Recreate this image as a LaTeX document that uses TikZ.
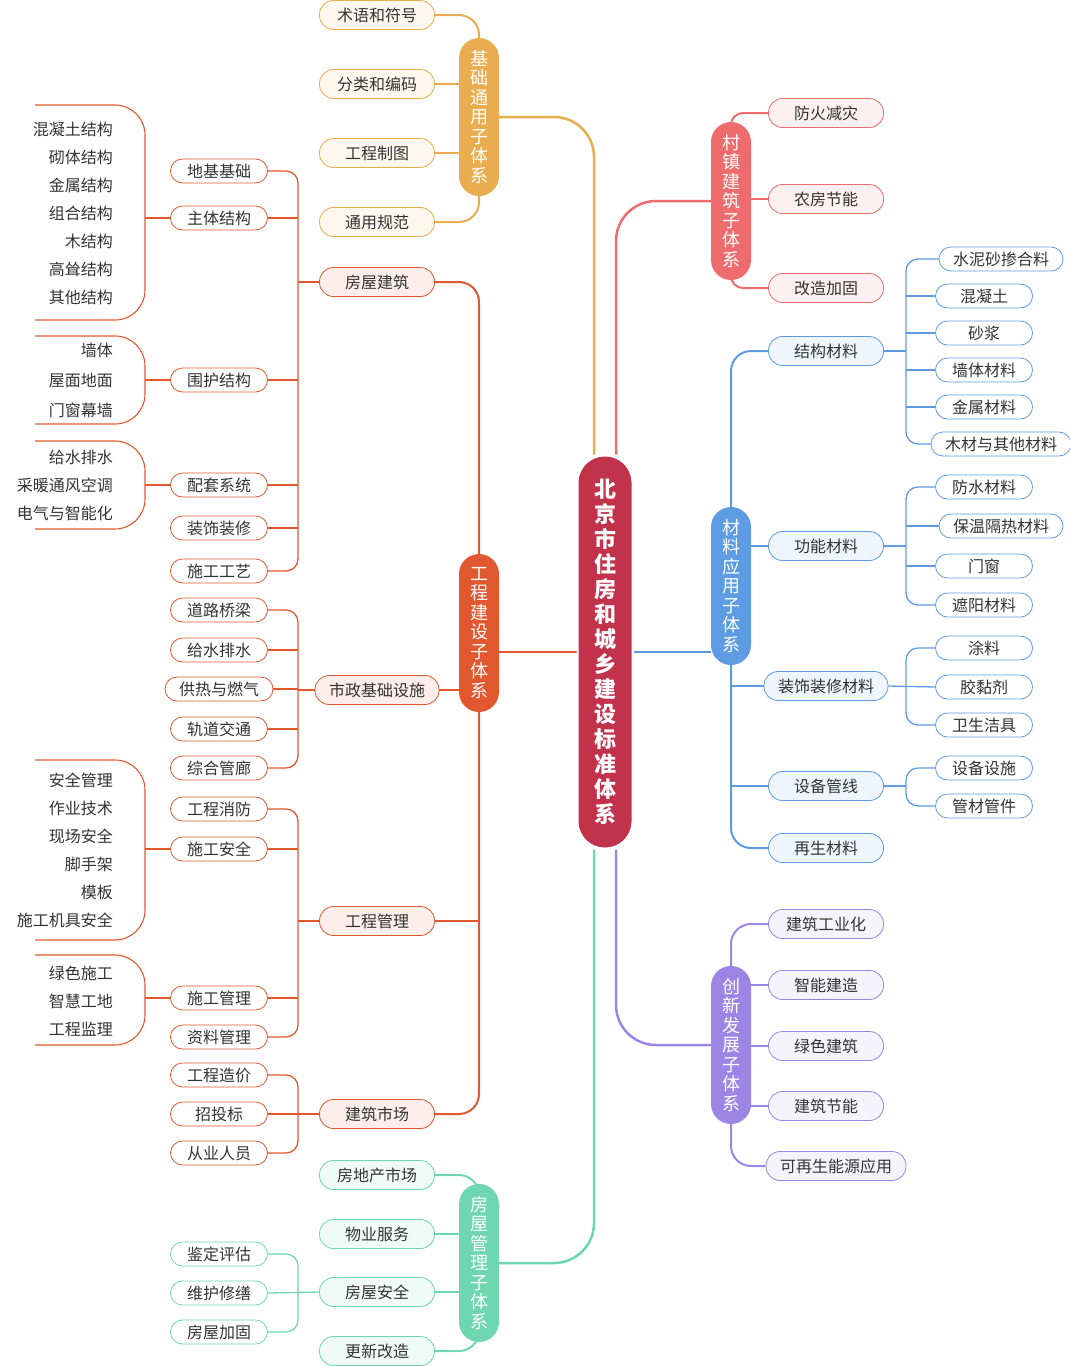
\documentclass[tikz,border=0pt]{standalone}
\usepackage{fontspec}
\setmainfont{Noto Sans CJK SC}
\usetikzlibrary{backgrounds}
\definecolor{yel}{HTML}{E9AD50}
\definecolor{org}{HTML}{E2582E}
\definecolor{pnk}{HTML}{EE6B6E}
\definecolor{blu}{HTML}{5D9CE3}
\definecolor{pur}{HTML}{9B86E6}
\definecolor{grn}{HTML}{6ED6B0}
\definecolor{ctrc}{HTML}{C2324A}
\definecolor{txt}{HTML}{333333}
\tikzset{
  hub/.style={rounded corners=20,fill=#1,text=white,font=\fontsize{18}{19.5}\selectfont,
    align=center,minimum width=40,minimum height=158,inner sep=2},
  lf/.style={draw=#1,fill=#1!10,rounded corners=14,minimum width=115,minimum height=29,
    text=txt,font=\fontsize{16}{18}\selectfont,line width=0.8,inner xsep=14},
  sm/.style={draw=#1,fill=white,rounded corners=12,minimum width=97,minimum height=24,
    text=txt,font=\fontsize{16}{18}\selectfont,line width=0.8,inner xsep=14,inner ysep=2},
  it/.style={anchor=east,text=txt,font=\fontsize{16}{18}\selectfont,inner sep=0},
  ln/.style={draw=#1,line width=2.5,rounded corners=40},
  br/.style={draw=#1,line width=1.3,rounded corners=12},
  bk/.style={draw=#1,line width=1.1,rounded corners=30}
}
% 左侧文字列表的括号
\newcommand\lbrk[4]{\draw[bk=#4] (35,#1) -- (145,#1) -- (145,#2) -- (35,#2);
  \draw[br=#4] (lx|-#3.west) -- (#3.west);}
\begin{document}
\begin{tikzpicture}[x=1pt,y=-1pt]
\useasboundingbox (0,0) rectangle (1069,1366);
\coordinate (bx) at (298,0);
\coordinate (bx2) at (906,0);
\coordinate (lx) at (145,0);

% 中心
\node[draw=white,line width=2,fill=ctrc,rounded corners=27,minimum width=55,minimum height=393,
  text=white,font=\bfseries\fontsize{22}{25}\selectfont,align=center] (ctr) at (605,652)
  {北\\京\\市\\住\\房\\和\\城\\乡\\建\\设\\标\\准\\体\\系};

% 子体系
\node[hub=yel] (jc) at (479,117) {基\\础\\通\\用\\子\\体\\系};
\node[hub=org] (gc) at (479,633) {工\\程\\建\\设\\子\\体\\系};
\node[hub=grn] (fg) at (479,1263) {房\\屋\\管\\理\\子\\体\\系};
\node[hub=pnk] (cz) at (731,201) {村\\镇\\建\\筑\\子\\体\\系};
\node[hub=blu] (cl) at (731,586) {材\\料\\应\\用\\子\\体\\系};
\node[hub=pur] (cx) at (731,1045) {创\\新\\发\\展\\子\\体\\系};

% 基础通用
\node[lf=yel] (sy) at (377,15) {术语和符号};
\node[lf=yel] (fl) at (377,84) {分类和编码};
\node[lf=yel] (zt) at (377,153) {工程制图};
\node[lf=yel] (gf) at (377,222) {通用规范};

% 工程建设
\node[lf=org] (fw) at (377,282) {房屋建筑};
\node[lf=org] (sz) at (377,690) {市政基础设施};
\node[lf=org] (gl) at (377,921) {工程管理};
\node[lf=org] (sc) at (377,1114) {建筑市场};
\node[sm=org] (dj) at (219,171) {地基基础};
\node[sm=org] (zj) at (219,218) {主体结构};
\node[sm=org] (wh) at (219,380) {围护结构};
\node[sm=org] (pt) at (219,485) {配套系统};
\node[sm=org] (zs) at (219,528) {装饰装修};
\node[sm=org] (sg) at (219,571) {施工工艺};
\node[sm=org] (dl) at (219,610) {道路桥梁};
\node[sm=org] (gs) at (219,650) {给水排水};
\node[sm=org] (rq) at (219,689) {供热与燃气};
\node[sm=org] (gd) at (219,729) {轨道交通};
\node[sm=org] (gl2) at (219,768) {综合管廊};
\node[sm=org] (xf) at (219,809) {工程消防};
\node[sm=org] (aq) at (219,849) {施工安全};
\node[sm=org] (sgl) at (219,998) {施工管理};
\node[sm=org] (zl) at (219,1037) {资料管理};
\node[sm=org] (zj2) at (219,1075) {工程造价};
\node[sm=org] (zb) at (219,1114) {招投标};
\node[sm=org] (cy) at (219,1153) {从业人员};

\foreach \t [count=\i] in {混凝土结构,砌体结构,金属结构,组合结构,木结构,高耸结构,其他结构}
  \node[it] at (113,101+28*\i) {\t};
\foreach \t [count=\i] in {墙体,屋面地面,门窗幕墙}
  \node[it] at (113,320+30*\i) {\t};
\foreach \t [count=\i] in {给水排水,采暖通风空调,电气与智能化}
  \node[it] at (113,429+28*\i) {\t};
\foreach \t [count=\i] in {安全管理,作业技术,现场安全,脚手架,模板,施工机具安全}
  \node[it] at (113,752+28*\i) {\t};
\foreach \t [count=\i] in {绿色施工,智慧工地,工程监理}
  \node[it] at (113,945+28*\i) {\t};

% 房屋管理
\node[lf=grn] (fd) at (377,1175) {房地产市场};
\node[lf=grn] (wy) at (377,1234) {物业服务};
\node[lf=grn] (fa) at (377,1292) {房屋安全};
\node[lf=grn] (gx) at (377,1351) {更新改造};
\node[sm=grn] (jd) at (219,1254) {鉴定评估};
\node[sm=grn] (wx) at (219,1293) {维护修缮};
\node[sm=grn] (jg2) at (219,1332) {房屋加固};

% 村镇建筑
\node[lf=pnk] (fh) at (826,113) {防火减灾};
\node[lf=pnk] (nf) at (826,199) {农房节能};
\node[lf=pnk] (gz) at (826,288) {改造加固};

% 材料应用
\node[lf=blu] (jg) at (826,351) {结构材料};
\node[lf=blu] (gn) at (826,546) {功能材料};
\node[lf=blu] (zx) at (826,686) {装饰装修材料};
\node[lf=blu] (sb) at (826,786) {设备管线};
\node[lf=blu] (zs2) at (826,848) {再生材料};
\node[sm=blu] (sn) at (1001,259) {水泥砂掺合料};
\node[sm=blu] (hn) at (984,296) {混凝土};
\node[sm=blu] (sj) at (984,333) {砂浆};
\node[sm=blu] (qt) at (984,370) {墙体材料};
\node[sm=blu] (js) at (984,407) {金属材料};
\node[sm=blu] (mc) at (1001,444) {木材与其他材料};
\node[sm=blu] (fs) at (984,487) {防水材料};
\node[sm=blu] (bw) at (1001,526) {保温隔热材料};
\node[sm=blu] (mch) at (984,566) {门窗};
\node[sm=blu] (zy) at (984,605) {遮阳材料};
\node[sm=blu] (tl) at (984,648) {涂料};
\node[sm=blu] (jn) at (984,687) {胶黏剂};
\node[sm=blu] (ws) at (984,725) {卫生洁具};
\node[sm=blu] (ss) at (984,768) {设备设施};
\node[sm=blu] (gc2) at (984,806) {管材管件};

% 创新发展
\node[lf=pur] (gy) at (826,924) {建筑工业化};
\node[lf=pur] (zn) at (826,985) {智能建造};
\node[lf=pur] (ls) at (826,1046) {绿色建筑};
\node[lf=pur] (jn2) at (826,1106) {建筑节能};
\node[lf=pur] (kz) at (836,1166) {可再生能源应用};

\begin{pgfonlayer}{background}
  % 主干
  \draw[ln=yel] ([xshift=-11]ctr.north) |- (jc.east);
  \draw[ln=pnk] ([xshift=11]ctr.north) |- (cz.west);
  \draw[ln=org] (ctr.west) -- (ctr.west -| gc.east);
  \draw[ln=blu] (ctr.east) -- (ctr.east -| cl.west);
  \draw[ln=grn] ([xshift=-11]ctr.south) |- (fg.east);
  \draw[ln=pur] ([xshift=11]ctr.south) |- (cx.west);

  % 二级
  \draw[ln=yel,line width=2,rounded corners=20] (jc.north) |- (sy.east);
  \draw[ln=yel,line width=2,rounded corners=20] (jc.south) |- (gf.east);
  \foreach \n in {fl,zt} \draw[yel,line width=2] (\n.east) -- (\n.east -| jc.center);
  \draw[ln=org,line width=2,rounded corners=20] (gc.north) |- (fw.east);
  \draw[ln=org,line width=2,rounded corners=20] (gc.south) |- (sc.east);
  \foreach \n in {sz,gl} \draw[org,line width=2] (\n.east) -- (\n.east -| gc.center);
  \draw[ln=grn,line width=2,rounded corners=20] (fg.north) |- (fd.east);
  \draw[ln=grn,line width=2,rounded corners=20] (fg.south) |- (gx.east);
  \foreach \n in {wy,fa} \draw[grn,line width=2] (\n.east) -- (\n.east -| fg.center);
  \draw[ln=pnk,line width=2,rounded corners=12] (cz.north) |- (fh.west);
  \draw[ln=pnk,line width=2,rounded corners=12] (cz.south) |- (gz.west);
  \draw[pnk,line width=2] (nf.west) -- (nf.west -| cz.center);
  \draw[ln=blu,line width=2,rounded corners=20] (jg.west) -| (cl.north);
  \draw[ln=blu,line width=2,rounded corners=20] (zs2.west) -| (cl.south);
  \foreach \n in {gn,zx,sb} \draw[blu,line width=2] (\n.west) -- (\n.west -| cl.center);
  \draw[ln=pur,line width=2,rounded corners=20] (gy.west) -| (cx.north);
  \draw[ln=pur,line width=2,rounded corners=20] (kz.west) -| (cx.south);
  \foreach \n in {zn,ls,jn2} \draw[pur,line width=2] (\n.west) -- (\n.west -| cx.center);

  % 三级
  \draw[br=org] (dj.east) -- (bx|-dj.east) |- (sg.east);
  \foreach \n in {zj,wh,pt,zs} \draw[br=org] (\n.east) -- (bx|-\n.east);
  \draw[br=org] (fw.west) -- (bx|-fw.west);
  \draw[br=org] (dl.east) -- (bx|-dl.east) |- (gl2.east);
  \foreach \n in {gs,rq,gd} \draw[br=org] (\n.east) -- (bx|-\n.east);
  \draw[br=org] (sz.west) -- (bx|-sz.west);
  \draw[br=org] (xf.east) -- (bx|-xf.east) |- (zl.east);
  \draw[br=org] (aq.east) -- (bx|-aq.east);
  \draw[br=org] (sgl.east) -- (bx|-sgl.east);
  \draw[br=org] (gl.west) -- (bx|-gl.west);
  \draw[br=org] (zj2.east) -- (bx|-zj2.east) |- (cy.east);
  \draw[br=org] (zb.east) -- (sc.west);
  \draw[br=grn] (jd.east) -- (bx|-jd.east) |- (jg2.east);
  \draw[br=grn] (wx.east) -- (fa.west);
  \draw[br=blu] (sn.west) -- (bx2|-sn.west) |- (mc.west);
  \foreach \n in {hn,sj,qt,js} \draw[br=blu] (\n.west) -- (bx2|-\n.west);
  \draw[br=blu] (jg.east) -- (bx2|-jg.east);
  \draw[br=blu] (fs.west) -- (bx2|-fs.west) |- (zy.west);
  \foreach \n in {bw,mch} \draw[br=blu] (\n.west) -- (bx2|-\n.west);
  \draw[br=blu] (gn.east) -- (bx2|-gn.east);
  \draw[br=blu] (tl.west) -- (bx2|-tl.west) |- (ws.west);
  \draw[br=blu] (jn.west) -- (zx.east);
  \draw[br=blu] (ss.west) -- (bx2|-ss.west) |- (gc2.west);
  \draw[br=blu] (sb.east) -- (bx2|-sb.east);

  % 四级
  \lbrk{105}{320}{zj}{org}
  \lbrk{336}{424}{wh}{org}
  \lbrk{441}{529}{pt}{org}
  \lbrk{760}{940}{aq}{org}
  \lbrk{955}{1045}{sgl}{org}
\end{pgfonlayer}
\end{tikzpicture}
\end{document}
